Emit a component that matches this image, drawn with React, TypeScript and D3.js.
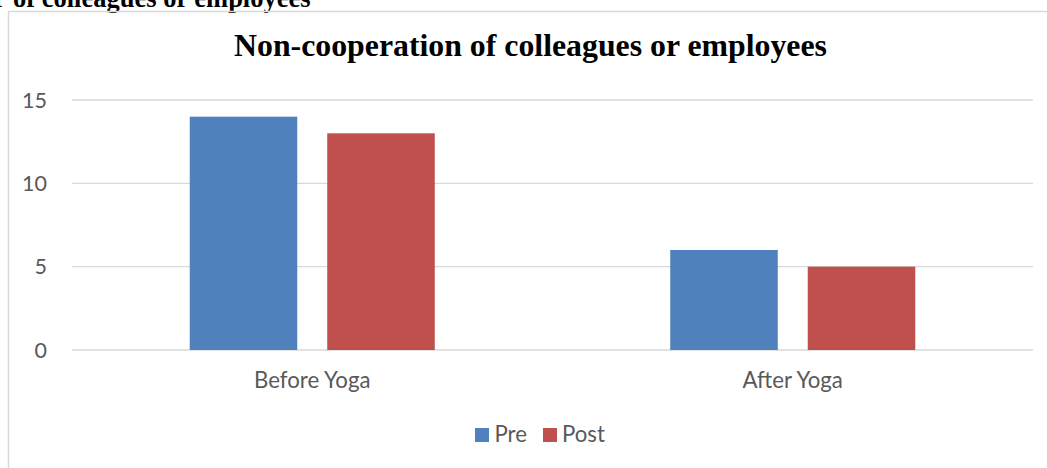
import React from "react";
import * as d3 from "d3";

const categories = ["Before Yoga", "After Yoga"];
const seriesNames = ["Pre", "Post"];
const preValues = [14, 6];
const postValues = [13, 5];
const yTicks = [0, 5, 10, 15];
const seriesColors = ["#4F81BD", "#C0504D"];
const title = "Non-cooperation of colleagues or employees";
const captionFragment = "of colleagues or employees";

const W = 1047;
const H = 468;

export default function App() {
  const x0 = d3.scaleBand<string>().domain(categories).range([72, 1033]).paddingInner(0.49).paddingOuter(0.245);
  const x1 = d3.scaleBand<string>().domain(seriesNames).range([0, x0.bandwidth()]).paddingInner(0.218).paddingOuter(0);
  const y = d3.scaleLinear().domain([0, 15]).range([350, 100]);
  const values = [preValues, postValues];
  const font = "Lato, 'Open Sans', sans-serif";
  const serif = "'Liberation Serif', 'Times New Roman', serif";
  const grey = "#595959";

  return (
    <svg width={W} height={H} style={{ position: "absolute", left: 0, top: 0, background: "#fff" }}>
      <rect x={0} y={0} width={W} height={H} fill="#fff" />
      <text y={7} fontFamily={serif} fontWeight="bold" fontSize={26.5} fill="#000">
        <tspan x={-6}>f</tspan>
        <tspan x={13}>{captionFragment}</tspan>
      </text>
      <rect x={8.5} y={11.5} width={W + 10} height={H + 10} fill="none" stroke="#d9d9d9" strokeWidth={1.5} />
      <text x={530.5} y={56} textAnchor="middle" fontFamily={serif} fontWeight="bold" fontSize={31.8} fill="#000">
        {title}
      </text>
      {yTicks.map((t) => (
        <g key={t}>
          <line x1={72} x2={1033} y1={y(t)} y2={y(t)} stroke="#d9d9d9" strokeWidth={1.3} />
          <text x={47} y={y(t)} dy="0.36em" textAnchor="end" fontFamily={font} fontSize={21.5} fill={grey}>
            {t}
          </text>
        </g>
      ))}
      {categories.map((c, ci) => (
        <g key={c} transform={`translate(${x0(c)},0)`}>
          {seriesNames.map((s, si) => (
            <rect
              key={s}
              x={x1(s)}
              y={y(values[si][ci])}
              width={x1.bandwidth()}
              height={y(0) - y(values[si][ci])}
              fill={seriesColors[si]}
            />
          ))}
          <text x={x0.bandwidth() / 2} y={388} textAnchor="middle" fontFamily={font} fontSize={22.2} fill={grey}>
            {c}
          </text>
        </g>
      ))}
      <g>
        <rect x={475} y={428} width={14} height={14} fill={seriesColors[0]} />
        <text x={494.5} y={442} fontFamily={font} fontSize={22.2} fill={grey}>{seriesNames[0]}</text>
        <rect x={543} y={428} width={14} height={14} fill={seriesColors[1]} />
        <text x={562} y={442} fontFamily={font} fontSize={22.2} fill={grey}>{seriesNames[1]}</text>
      </g>
    </svg>
  );
}
